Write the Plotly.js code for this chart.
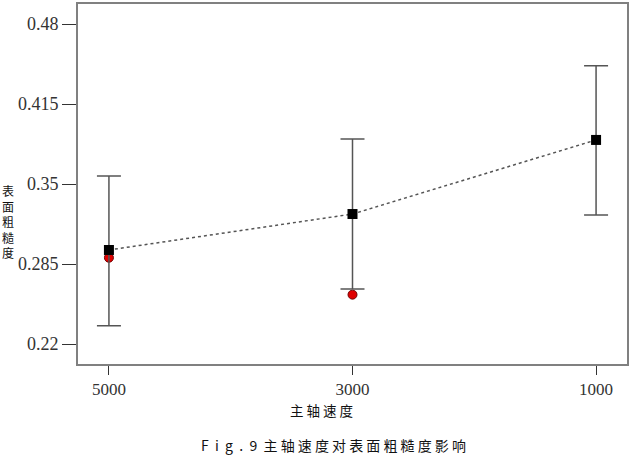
<!DOCTYPE html>
<html><head><meta charset="utf-8">
<script src="https://cdn.plot.ly/plotly-3.0.1.min.js"></script>
<style>html,body{margin:0;padding:0;background:#fff}#chart{width:629px;height:466px}</style>
</head><body><div id="chart"></div>
<script>
const categories = ['5000', '3000', '1000'];
const meanValues = [0.2964, 0.3256, 0.3858];
const errPlus = [0.0601, 0.0610, 0.0603];
const errMinus = [0.0615, 0.0609, 0.0610];
const redValues = [0.2901, 0.2601, null];
const yTickVals = [0.22, 0.285, 0.35, 0.415, 0.48];
const yTickText = ['0.22', '0.285', '0.35', '0.415', '0.48'];
const yTitleChars = ['表', '面', '粗', '糙', '度'];

const grey = '#555555';
const serif = 'Liberation Serif';
const cjk = 'Noto Sans CJK SC';
const traces = [
  {x: categories, y: redValues, type: 'scatter', mode: 'markers',
   marker: {symbol: 'circle', size: 9, color: '#e00000', line: {color: '#700000', width: 1}},
   hoverinfo: 'skip', showlegend: false},
  {x: categories, y: meanValues, type: 'scatter', mode: 'lines+markers',
   line: {color: grey, width: 1.5, dash: 'dot'},
   marker: {symbol: 'square', size: 10, color: '#000000'},
   error_y: {type: 'data', symmetric: false, array: errPlus, arrayminus: errMinus,
             color: grey, thickness: 1.5, width: 12},
   showlegend: false}
];

const sp = '\u00a0';
const annotations = [
  {text: ['主', '轴', '速', '度'].join(sp), xref: 'paper', yref: 'paper', x: 0.4444, y: -0.127,
   xanchor: 'center', yanchor: 'middle', showarrow: false,
   font: {family: cjk, size: 13.5, color: '#111'}},
  {text: ['F', 'i', 'g', '.', '9'].join(sp + sp) + sp + sp + ['主','轴','速','度','对','表','面','粗','糙','度','影','响'].join(sp),
   xref: 'paper', yref: 'paper', x: 0.4645, y: -0.225,
   xanchor: 'center', yanchor: 'middle', showarrow: false,
   font: {family: cjk, size: 14, color: '#111'}},
  {text: yTitleChars.join('<br>'), xref: 'paper', yref: 'paper', x: -0.1275, y: 0.3958,
   xanchor: 'center', yanchor: 'middle', showarrow: false,
   font: {family: cjk, size: 12, color: '#111'}}
];

const layout = {
  width: 629, height: 466,
  margin: {l: 78, r: 2, t: 4, b: 102},
  paper_bgcolor: '#ffffff', plot_bgcolor: '#ffffff',
  showlegend: false,
  font: {family: serif},
  xaxis: {type: 'category', range: [-0.127, 2.127], showgrid: false, zeroline: false,
          showline: true, linecolor: '#808080', linewidth: 2, mirror: true,
          ticks: 'outside', ticklen: 9, tickwidth: 1, tickcolor: '#333',
          tickfont: {family: serif, size: 17, color: '#333'}},
  yaxis: {range: [0.20375, 0.49625], tickvals: yTickVals, ticktext: yTickText,
          showgrid: false, zeroline: false,
          showline: true, linecolor: '#808080', linewidth: 2, mirror: true,
          ticks: 'outside', ticklen: 14, tickwidth: 1, tickcolor: '#333',
          tickfont: {family: serif, size: 18, color: '#333'}},
  annotations: annotations
};
Plotly.newPlot('chart', traces, layout, {displayModeBar: false, staticPlot: true});
</script></body></html>
